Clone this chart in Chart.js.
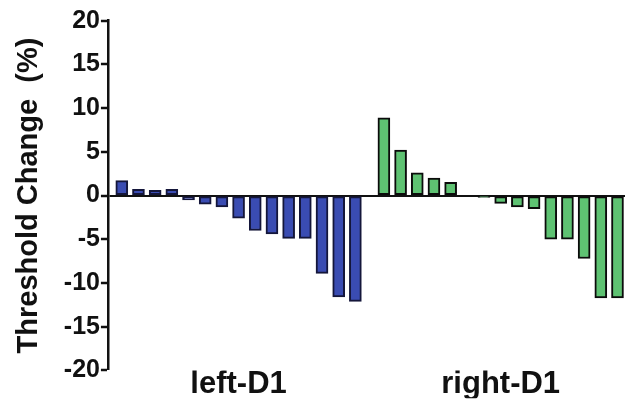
<!DOCTYPE html>
<html>
<head>
<meta charset="utf-8">
<script src="https://cdn.jsdelivr.net/npm/chart.js@4.4.1/dist/chart.umd.min.js"></script>
<style>
  html, body { margin: 0; padding: 0; background: #ffffff; }
  #wrap { width: 625px; height: 402px; }
</style>
</head>
<body>
<div id="wrap"><canvas id="c" width="625" height="402"></canvas></div>
<script>
// ---- data ----
const groupLabels = ['left-D1', 'right-D1'];
const leftValues  = [1.7, 0.7, 0.6, 0.7, -0.5, -1.0, -1.3, -2.6, -4.0, -4.4, -4.9, -4.9, -8.9, -11.6, -12.1];
const rightValues = [8.9, 5.2, 2.6, 2.0, 1.5, 0, -0.2, -0.9, -1.3, -1.5, -5.0, -5.0, -7.2, -11.7, -11.7];
const yTickMin = -20, yTickMax = 20, yTickStep = 5;
const yTitle = 'Threshold Change  (%)';

// ---- layout helpers ----
const GROUP_GAP = 1.71; // slot distance between last left bar and first right bar
const leftX  = leftValues.map((v, i) => i);
const rightStart = (leftValues.length - 1) + GROUP_GAP;
const rightX = rightValues.map((v, i) => rightStart + i);
const groupCenters = [
  (leftX[0] + leftX[leftX.length - 1]) / 2,
  (rightX[0] + rightX[rightX.length - 1]) / 2
];

const FONT = "'Liberation Sans', Arial, Helvetica, sans-serif";

new Chart(document.getElementById('c'), {
  type: 'bar',
  data: {
    datasets: [
      {
        label: groupLabels[0],
        data: leftValues.map((v, i) => ({ x: leftX[i], y: v })),
        backgroundColor: '#3a4cb2',
        borderColor: '#14163a',
        borderWidth: 2,
        borderSkipped: false,
        barThickness: 12,
        grouped: false
      },
      {
        label: groupLabels[1],
        data: rightValues.map((v, i) => ({ x: rightX[i], y: v })),
        backgroundColor: '#5ec272',
        borderColor: '#0b0b0b',
        borderWidth: 2,
        borderSkipped: false,
        barThickness: 12,
        grouped: false
      }
    ]
  },
  options: {
    responsive: false,
    animation: false,
    devicePixelRatio: 1,
    layout: { padding: { top: 20.7, right: 0, left: 12, bottom: 3.7 } },
    plugins: {
      legend: { display: false },
      tooltip: { enabled: false }
    },
    scales: {
      x: {
        type: 'linear',
        offset: false,
        bounds: 'data',
        min: -0.83,
        max: rightX[rightX.length - 1] + 0.45,
        grid: { display: false, drawTicks: false, offset: false },
        border: { display: false },
        afterBuildTicks: (axis) => {
          axis.ticks = groupCenters.map(c => ({ value: c }));
        },
        ticks: {
          autoSkip: false,
          maxRotation: 0,
          padding: 0,
          color: '#111',
          font: { family: FONT, size: 31, weight: 'bold', lineHeight: 0.9 },
          callback: (value, index) => groupLabels[index]
        }
      },
      y: {
        min: yTickMin,
        max: yTickMax,
        border: { display: true, color: '#111', width: 2.5 },
        grid: {
          drawOnChartArea: true,
          drawTicks: true,
          tickLength: 7,
          tickWidth: 2.5,
          tickColor: '#111',
          lineWidth: (ctx) => (ctx.tick && ctx.tick.value === 0 ? 2 : 0),
          color: (ctx) => (ctx.tick && ctx.tick.value === 0 ? '#111' : 'rgba(0,0,0,0)')
        },
        ticks: {
          stepSize: yTickStep,
          padding: 1,
          color: '#111',
          font: { family: FONT, size: 25, weight: 'bold' }
        },
        title: {
          display: true,
          text: yTitle,
          color: '#111',
          padding: { top: 0, bottom: 16 },
          font: { family: FONT, size: 29, weight: 'bold' }
        }
      }
    }
  }
});
</script>
</body>
</html>
